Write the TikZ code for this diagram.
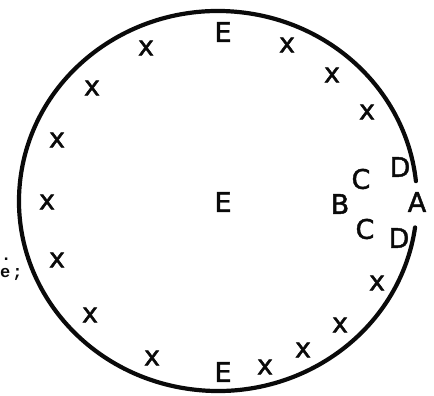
\documentclass[tikz,border=0pt]{standalone}
\usepackage{fontspec}
\setmainfont{DejaVu Sans}
\newfontfamily\lblfont[FakeBold=1.6]{DejaVu Sans}
\newfontfamily\fragfont{Liberation Mono}
\usepackage{xcolor}
\usepackage{tikz}
\definecolor{inkc}{RGB}{10,10,10}
\tikzset{
  ring/.style={line width=4.2pt, draw=inkc, line cap=round},
  lbl/.style={font=\lblfont\fontsize{27}{27}\selectfont, text=inkc, inner sep=0pt},
  xmark/.style={lbl},
  frag/.style={font=\fragfont\bfseries\fontsize{17}{17}\selectfont, text=inkc, inner sep=0pt}
}

\begin{document}
\begin{tikzpicture}[x=1pt, y=-1pt]
\useasboundingbox (0,0) rectangle (434,396);
% outer ring, open on the right at A
\draw[ring] (218,201) ++(8:199 and 190) arc[start angle=8, end angle=354, x radius=199, y radius=190];
% centre and pole labels
\node[lbl] (etop) at (223,32) {E};
\node[lbl] (emid) at (223,202) {E};
\node[lbl] (ebot) at (223,372) {E};
% letters by the gap
\node[lbl] (b) at (340,204) {B};
\node[lbl] (cup) at (361,179) {C};
\node[lbl] (clo) at (365,229) {C};
\node[lbl] (dup) at (400,167) {D};
\node[lbl] (dlo) at (399,238) {D};
\node[lbl] (a) at (417,202) {A};
% crosses round the ring
\foreach \px/\py [count=\i] in {146/48, 92/88, 57/140, 47/202, 57/260, 90/315, 152/358,
                              265/367, 303/350, 340/325, 377/283, 367/112, 332/75, 287/45}
  \node[xmark] (x\i) at (\px,\py) {x};
% cut-off text at the left edge
\node[frag, anchor=base west] (fragdot) at (1,260) {.};
\node[frag, anchor=base west] (fragline) at (0,277) {e\kern2pt;};
\end{tikzpicture}
\end{document}
